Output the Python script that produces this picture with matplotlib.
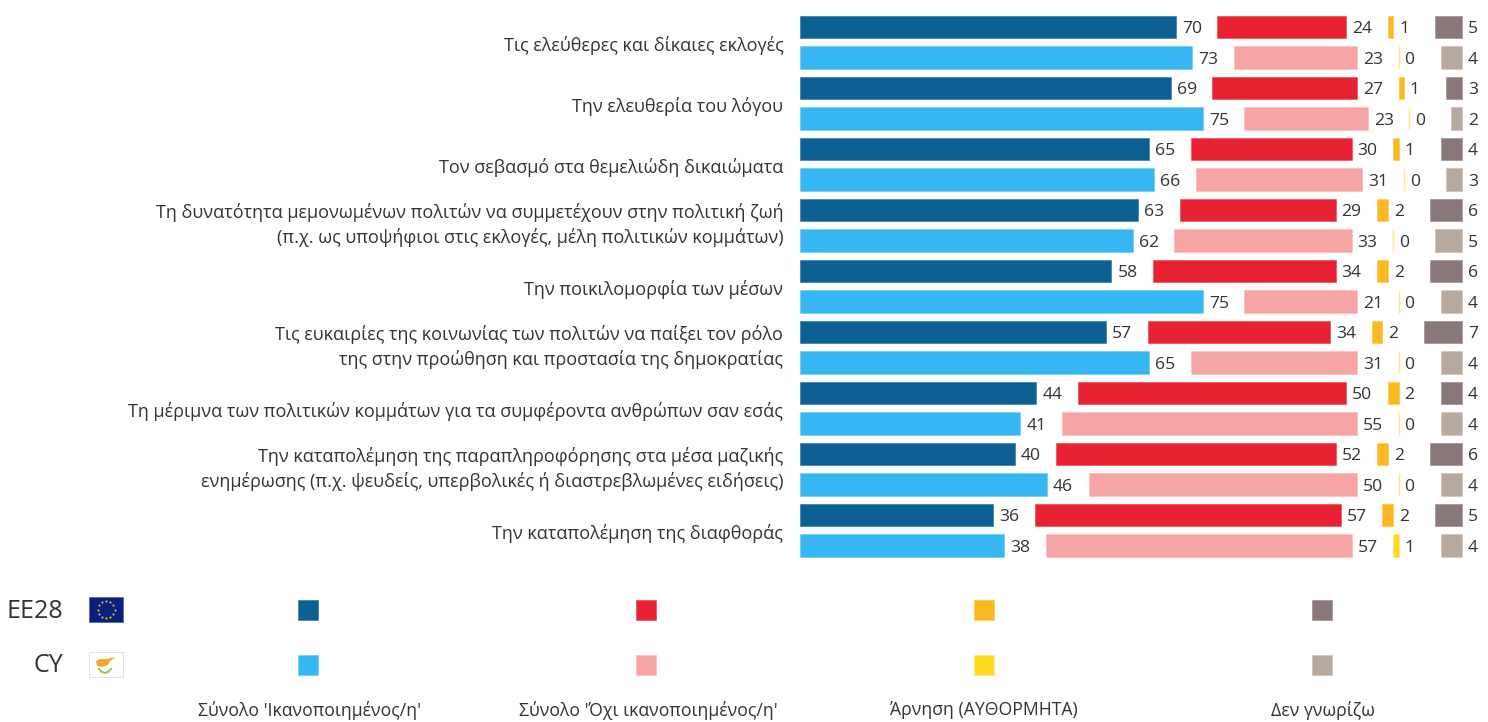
import numpy as np
import matplotlib
matplotlib.use('Agg')
import matplotlib.pyplot as plt
from matplotlib.patches import Rectangle, Polygon
from matplotlib.transforms import ScaledTranslation

plt.rcParams['font.family'] = ['Open Sans', 'DejaVu Sans']

labels = [
    'Τις ελεύθερες και δίκαιες εκλογές',
    'Την ελευθερία του λόγου',
    'Τον σεβασμό στα θεμελιώδη δικαιώματα',
    'Τη δυνατότητα μεμονωμένων πολιτών να συμμετέχουν στην πολιτική ζωή\n(π.χ. ως υποψήφιοι στις εκλογές, μέλη πολιτικών κομμάτων)',
    'Την ποικιλομορφία των μέσων',
    'Τις ευκαιρίες της κοινωνίας των πολιτών να παίξει τον ρόλο\nτης στην προώθηση και προστασία της δημοκρατίας',
    'Τη μέριμνα των πολιτικών κομμάτων για τα συμφέροντα ανθρώπων σαν εσάς',
    'Την καταπολέμηση της παραπληροφόρησης στα μέσα μαζικής\nενημέρωσης (π.χ. ψευδείς, υπερβολικές ή διαστρεβλωμένες ειδήσεις)',
    'Την καταπολέμηση της διαφθοράς',
]
eu_yes = [70, 69, 65, 63, 58, 57, 44, 40, 36]
eu_no = [24, 27, 30, 29, 34, 34, 50, 52, 57]
eu_ref = [1, 1, 1, 2, 2, 2, 2, 2, 2]
eu_dk = [5, 3, 4, 6, 6, 7, 4, 6, 5]
cy_yes = [73, 75, 66, 62, 75, 65, 41, 46, 38]
cy_no = [23, 23, 31, 33, 21, 31, 55, 50, 57]
cy_ref = [0, 0, 0, 0, 0, 0, 0, 0, 1]
cy_dk = [4, 2, 3, 5, 4, 4, 4, 4, 4]

legend_names = ["Σύνολο 'Ικανοποιημένος/η'", "Σύνολο 'Όχι ικανοποιημένος/η'", 'Άρνηση (ΑΥΘΟΡΜΗΤΑ)', 'Δεν γνωρίζω']
eu_colors = ['#0b5f92', '#e82133', '#fbb921', '#8a7779']
cy_colors = ['#36b7f2', '#f6a5a4', '#ffd91e', '#b8a99f']
edge_eu = ['#3a7fa8', '#ee4d5b', '#fcc84d', '#a19294']
edge_cy = ['#6fcbf5', '#f9c0bf', '#ffe98a', '#cfc4bc']

TXT = '#333333'
W, H = 1488, 722
PX = 5.37        # pixels per percentage point
GAP = 41.5 / PX  # space between the columns
DK_END = 662 / PX

fig = plt.figure(figsize=(W / 100, H / 100), dpi=100)
ax = fig.add_axes([800 / W, 1 - 560.75 / H, 688 / W, 549 / H])
ax.set_xlim(0, 688 / PX)
ax.set_ylim(17.5, -0.5)

yes_all = np.array([eu_yes, cy_yes])
no_all = np.array([eu_no, cy_no])
ref_all = np.array([eu_ref, cy_ref])
dk_all = np.array([eu_dk, cy_dk])

for s, (cols, edges) in enumerate([(eu_colors, edge_eu), (cy_colors, edge_cy)]):
    y = np.arange(9) * 2 + s
    yes, no, ref, dk = yes_all[s], no_all[s], ref_all[s], dk_all[s]
    no_left = yes + GAP
    ref_left = no_left + no + GAP
    dk_left = DK_END - dk
    for vals, left, c, e in zip([yes, no, ref, dk], [0 * yes, no_left, ref_left, dk_left], cols, edges):
        # zero bars are only their outline, so that one gets drawn thicker
        lws = [1.0 if v == 0 else 0.5 for v in vals]
        ax.barh(y, vals, left=left, height=0.74, color=c, edgecolor=e, linewidth=lws)
        for yy, v, l in zip(y, vals, left):
            ax.text(l + v + 6 / PX, yy + 0.07, str(v), va='center', ha='left', fontsize=12.6, color=TXT)

ax.set_yticks(np.arange(9) * 2 + 0.5)
ax.set_yticklabels(labels, fontsize=13.0, color=TXT, linespacing=1.36)
ax.tick_params(axis='y', length=0, pad=12)
ax.set_xticks([])
# single lines sit a little below the middle of each pair of bars, double lines above it
for t, lab in zip(ax.get_yticklabels(), labels):
    dy = 3.5 if '\n' in lab else -0.8
    t.set_transform(t.get_transform() + ScaledTranslation(0, dy / 72, fig.dpi_scale_trans))
for sp in ax.spines.values():
    sp.set_visible(False)

# legend and flags, in pixel coordinates
lg = fig.add_axes([0, 0, 1, 1], zorder=-1)
lg.set_xlim(0, W)
lg.set_ylim(H, 0)
lg.axis('off')

for x0, cx, name, c1, c2, e1, e2 in zip([298, 636, 974, 1312], [309, 648, 984, 1323], legend_names,
                                        eu_colors, cy_colors, edge_eu, edge_cy):
    lg.add_patch(Rectangle((x0, 600), 19.5, 19.5, fc=c1, ec=e1, lw=0.5))
    lg.add_patch(Rectangle((x0, 655), 19.5, 19.5, fc=c2, ec=e2, lw=0.5))
    lg.text(cx, 710, name, ha='center', va='center', fontsize=12.7, color=TXT)

lg.text(63, 611, 'EE28', ha='right', va='center', fontsize=18, color=TXT)
lg.text(63, 666, 'CY', ha='right', va='center', fontsize=18, color=TXT)

# EU flag
lg.add_patch(Rectangle((89, 597), 34, 25, fc='#0a1f80', ec='#5a66a8', lw=0.6))
ang = np.arange(12) * np.pi / 6
lg.scatter(106 + 8.5 * np.cos(ang), 609.5 + 8.5 * np.sin(ang), s=2.2, c='#e6d020', lw=0)

# CY flag
lg.add_patch(Rectangle((89, 652), 34, 25, fc='white', ec='#e2e2e2', lw=0.7))
lg.add_patch(Polygon([(96, 661), (100, 659), (107, 659), (116, 657), (110, 661), (108, 665),
                      (102, 667), (97, 666)], fc='#f0a72a', ec='none'))
lg.plot([99, 102, 105, 108, 111], [669, 672, 673, 672, 669], color='#8fce5a', lw=1.5)

fig.savefig('out.png', dpi=100)
